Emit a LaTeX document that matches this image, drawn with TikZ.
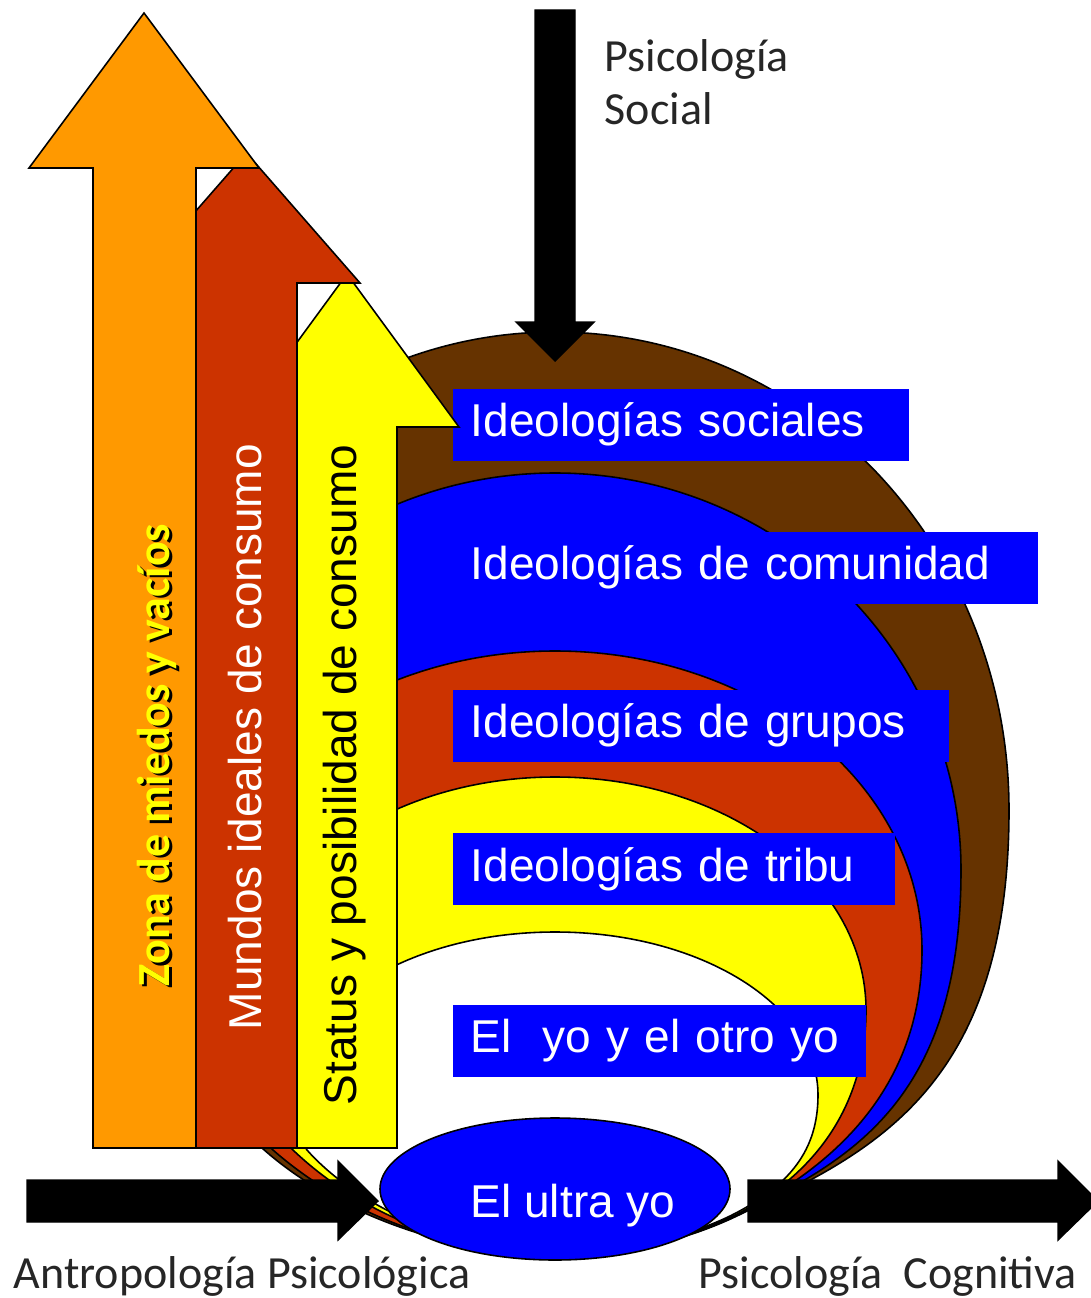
\documentclass[tikz,border=0pt]{standalone}
\usepackage{fontspec}
\setmainfont{Liberation Sans}
\newfontfamily\calibri{Carlito}
\definecolor{zonaorange}{HTML}{FF9900}
\definecolor{mundored}{HTML}{CC3300}
\definecolor{statusyellow}{HTML}{FFFF00}
\definecolor{socbrown}{HTML}{663300}
\definecolor{ideoblue}{HTML}{0000FF}
\begin{document}
\begin{tikzpicture}[x=0.1mm,y=-0.1mm,
    layer/.style={draw=black,line width=0.45pt},
    blockarrow/.style={draw=black,line width=0.45pt},
    blackarrow/.style={fill=black,draw=black,line width=0.4pt},
    ideobox/.style={fill=ideoblue,text=white,anchor=west,align=left,inner xsep=1.8mm,inner ysep=0pt,
        minimum height=7.2mm,font=\fontsize{13.1pt}{15pt}\selectfont},
    vlabel/.style={rotate=90,inner sep=0pt,font=\fontsize{13.1pt}{15pt}\selectfont},
    calabel/.style={anchor=base west,inner sep=0pt,text=black!85,font=\calibri\fontsize{13.1pt}{15pt}\selectfont}]
    \useasboundingbox (0,0) rectangle (1090,1298);

    % nested zones
    \filldraw[layer,fill=socbrown] (555,1257) .. controls (620,1257) and (690,1240) .. (745,1212)
        .. controls (880,1150) and (1009,1080) .. (1009,810)
        .. controls (1009,546) and (806,332) .. (555,332)
        .. controls (304,332) and (101,546) .. (101,810)
        .. controls (101,1000) and (200,1090) .. (262,1148)
        .. controls (320,1200) and (420,1250) .. (555,1257) -- cycle;
    \filldraw[layer,fill=ideoblue] (555,1256) .. controls (620,1256) and (688,1240) .. (742,1213)
        .. controls (850,1160) and (961,1100) .. (961,870)
        .. controls (961,651) and (779,473) .. (555,473)
        .. controls (331,473) and (149,651) .. (149,870)
        .. controls (149,1000) and (220,1100) .. (276,1152)
        .. controls (332,1200) and (422,1250) .. (555,1256) -- cycle;
    \filldraw[layer,fill=mundored] (555,1256) .. controls (618,1256) and (685,1240) .. (738,1214)
        .. controls (830,1169) and (922,1090) .. (922,950)
        .. controls (922,785) and (758,651) .. (555,651)
        .. controls (352,651) and (188,785) .. (188,950)
        .. controls (188,1060) and (230,1110) .. (273,1150)
        .. controls (330,1200) and (422,1250) .. (555,1256) -- cycle;
    \filldraw[layer,fill=statusyellow] (555,1255) .. controls (616,1255) and (683,1240) .. (735,1215)
        .. controls (810,1178) and (866,1110) .. (866,1010)
        .. controls (866,881) and (727,777) .. (555,777)
        .. controls (383,777) and (244,881) .. (244,1010)
        .. controls (244,1080) and (260,1120) .. (293,1150)
        .. controls (340,1195) and (425,1249) .. (555,1255) -- cycle;
    \filldraw[layer,fill=white] (555,1254) .. controls (614,1254) and (680,1240) .. (730,1216)
        .. controls (790,1186) and (818,1150) .. (818,1095)
        .. controls (818,1005) and (700,932) .. (555,932)
        .. controls (410,932) and (292,1005) .. (292,1095)
        .. controls (292,1120) and (295,1130) .. (307,1150)
        .. controls (345,1193) and (430,1248) .. (555,1254) -- cycle;

    % labels of the zones
    \node[ideobox,text width=42.0mm] (sociales) at (452,424.5) {Ideologías sociales};
    \node[ideobox,text width=54.9mm] (comunidad) at (452,567.5) {Ideologías de comunidad};
    \node[ideobox,text width=46.0mm] (grupos) at (452,725.5) {Ideologías de grupos};
    \node[ideobox,text width=40.6mm] (tribu) at (452,869) {Ideologías de tribu};
    \node[ideobox,text width=37.7mm] (otroyo) at (452,1041) {El\ \ yo y el otro yo};

    \filldraw[layer,fill=ideoblue] (555,1189) ellipse [x radius=17.5mm,y radius=7.1mm];
    \node[anchor=base west,inner sep=0pt,text=white,font=\fontsize{13.1pt}{15pt}\selectfont] (ultrayo) at (470,1217) {El ultra yo};

    % rising arrows
    \filldraw[blockarrow,fill=statusyellow] (297,1148) -- (297,427) -- (235,427) -- (347,274) -- (459,427) -- (397,427) -- (397,1148) -- cycle;
    \filldraw[blockarrow,fill=mundored] (196,1148) -- (196,283) -- (133,283) -- (246.5,153) -- (360,283) -- (297,283) -- (297,1148) -- cycle;
    \filldraw[blockarrow,fill=zonaorange] (93,1148) -- (93,168) -- (29,168) -- (144,13) -- (259,168) -- (196,168) -- (196,1148) -- cycle;

    % black arrows
    \filldraw[blackarrow] (535,10) -- (575,10) -- (575,322) -- (594,322) -- (555,361) -- (516,322) -- (535,322) -- cycle;
    \filldraw[blackarrow] (27,1180) -- (338,1180) -- (338,1161) -- (378,1201) -- (338,1240) -- (338,1222) -- (27,1222) -- cycle;
    \filldraw[blackarrow] (748,1180) -- (1058,1180) -- (1058,1161) -- (1098,1201) -- (1058,1240) -- (1058,1222) -- (748,1222) -- cycle;

    % texts
    \node[vlabel,text=black,font=\calibri\bfseries\fontsize{13.1pt}{15pt}\selectfont] (zonashadow) at (159.5,757.5) {Zona de miedos y vacíos};
    \node[vlabel,text=statusyellow,font=\calibri\bfseries\fontsize{13.1pt}{15pt}\selectfont] (zona) at (157,755) {Zona de miedos y vacíos};
    \node[vlabel,text=white] (mundos) at (245,737) {Mundos ideales de consumo};
    \node[vlabel,text=black] (status) at (345,775) {Status y posibilidad de consumo};

    \node[calabel] (psico) at (604,72) {Psicología};
    \node[calabel] (social) at (604,125) {Social};
    \node[calabel] (antropo) at (13,1288) {Antropología Psicológica};
    \node[calabel] (cognitiva) at (698,1288) {Psicología\ \ Cognitiva};
\end{tikzpicture}
\end{document}
